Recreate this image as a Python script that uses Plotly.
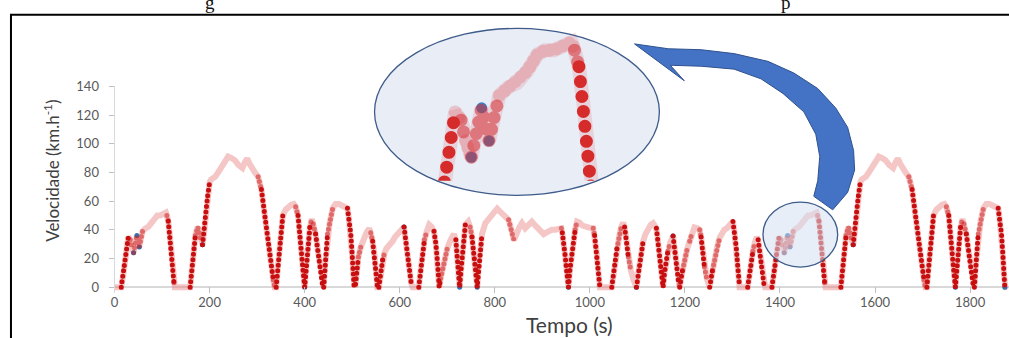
import plotly.graph_objects as go

# ---------------- data ----------------
phase1_t = [0, 14, 18, 22, 26, 29, 33, 36, 40, 44, 47, 50, 52, 55, 59, 65, 71, 78, 85, 90, 96, 102, 108,
            110, 113, 116, 120, 123, 125, 127, 159, 162, 165, 170, 175, 178, 182, 185, 188, 191, 193, 196,
            200, 203, 207, 212, 218, 223, 228, 234, 239, 246, 253, 261, 269, 274, 279, 284, 288, 295, 302,
            305, 309, 314, 319, 324, 330, 334, 337, 340, 343, 347, 350, 354, 360, 366, 372, 377, 381, 386,
            390, 394, 397, 400, 403, 407, 411, 415, 418, 423, 428, 432, 436, 438, 440, 443, 448, 453, 459,
            465, 472, 480, 486, 490, 493, 497, 500, 502, 504, 505]
phase1_v = [0, 0, 8, 18, 28, 35, 33, 28, 24, 31, 36, 31, 28, 33, 39, 41, 42, 45, 49, 50, 50, 51, 52,
            50, 46, 37, 21, 9, 3, 0, 0, 10, 25, 36, 42, 38, 32, 29.5, 37, 49, 55, 64,
            73, 75, 76, 77, 80, 83, 86, 89, 91, 90, 88.5, 85, 83, 87, 89.6, 86, 83, 80, 77,
            73, 68, 55, 41, 28, 14, 5, 0, 0, 12, 28, 38, 50, 54, 56, 57.5, 58, 56, 50,
            38, 22, 10, 0, 14, 32, 42, 47.5, 44, 37, 25, 14, 4, 0, 0, 16, 37, 46, 55,
            58, 58, 57, 56, 55, 48, 37, 22, 10, 0, 0]

phase2_t = [505, 507, 510, 513, 518, 524, 530, 536, 539, 543, 547, 550, 553, 556, 560, 564, 568, 572, 578,
            585, 590, 597, 603, 609, 612, 616, 620, 624, 627, 640, 644, 648, 652, 657, 662, 667, 672, 676,
            680, 683, 686, 690, 695, 700, 707, 714, 718, 721, 724, 726, 729, 733, 738, 744, 748, 752, 756,
            760, 763, 766, 770, 773, 780, 786, 791, 798, 805, 810, 815, 822, 829, 834, 840, 843, 847, 852,
            857, 864, 870, 878, 885, 892, 898, 903, 908, 913, 920, 927, 933, 940, 942, 945, 948, 951, 953,
            955, 958, 962, 965, 969, 973, 978, 984, 990, 998, 1007, 1010, 1014, 1017, 1019, 1021, 1046,
            1049, 1053, 1057, 1062, 1066, 1070, 1073, 1077, 1081, 1086, 1092, 1098, 1102, 1107, 1112, 1117,
            1122, 1128, 1133, 1137, 1140, 1143, 1146, 1150, 1154, 1157, 1160, 1164, 1169, 1175, 1177, 1179,
            1182, 1186, 1189, 1192, 1195, 1199, 1205, 1210, 1215, 1220, 1226, 1231, 1234, 1237, 1241, 1246,
            1252, 1255, 1258, 1262, 1267, 1273, 1278, 1283, 1288, 1295, 1301, 1304, 1306, 1308, 1311, 1313,
            1315, 1332, 1335, 1339, 1343, 1347, 1351, 1354, 1356, 1359, 1362, 1365, 1367, 1369]
phase2_v = [0, 2, 12, 21, 28, 34, 38, 41, 38, 32, 22, 10, 0, 0, 10, 19, 24, 27, 29,
            32, 35, 38, 40, 42, 34, 21, 11, 3, 0, 0, 12, 25, 33, 39, 43.5, 42, 39, 30,
            15, 0, 6, 12, 20, 27, 33, 37, 33, 22, 10, 0, 12, 28, 43.5, 45.7, 42, 35, 25,
            10, 0, 14, 28, 37, 44.6, 47, 49, 52, 54.7, 53, 51, 49, 47, 41, 33, 35, 39, 42,
            44.6, 41, 43, 45.7, 43, 40, 38, 37, 38, 39, 40, 40, 41, 41, 38, 32, 22, 12, 5,
            0, 12, 24, 32, 40, 45.7, 45, 43, 42, 41.5, 41, 36, 25, 14, 6, 0, 0,
            8, 18, 27, 36, 42, 45, 42, 33, 21, 12, 5, 0, 10, 22, 32, 37,
            41, 43.5, 44.6, 43, 41, 33, 23, 10, 0, 10, 17, 25, 31, 35.6, 31, 24,
            14, 5, 0, 6, 12, 19, 27, 32, 38, 41.6, 41, 40, 35, 26, 14, 6,
            0, 6, 12, 19, 27, 34.5, 38, 40, 41, 43, 45.7, 39, 33, 27.7, 15, 7,
            0, 0, 8, 17, 25, 31, 35, 33, 28, 20, 11, 4, 0, 0]

phase3_t = [1369, 1383, 1387, 1391, 1395, 1398, 1402, 1405, 1409, 1413, 1416, 1419, 1421, 1424, 1428, 1434,
            1440, 1447, 1454, 1459, 1465, 1471, 1477, 1479, 1482, 1485, 1489, 1492, 1494, 1496, 1528, 1531,
            1534, 1539, 1544, 1547, 1551, 1554, 1557, 1560, 1562, 1565, 1569, 1572, 1576, 1581, 1587, 1592,
            1597, 1603, 1608, 1615, 1622, 1630, 1638, 1643, 1648, 1653, 1657, 1664, 1671, 1674, 1678, 1683,
            1688, 1693, 1699, 1703, 1706, 1709, 1712, 1716, 1719, 1723, 1729, 1735, 1741, 1746, 1750, 1755,
            1759, 1763, 1766, 1769, 1772, 1776, 1780, 1784, 1787, 1792, 1797, 1801, 1805, 1807, 1809, 1812,
            1817, 1822, 1828, 1834, 1841, 1849, 1855, 1859, 1862, 1866, 1869, 1871, 1873, 1874]
phase3_v = [0, 0, 8, 18, 28, 35, 33, 28, 24, 31, 36, 31, 28, 33, 39, 41,
            42, 45, 49, 50, 50, 51, 52, 50, 46, 37, 21, 9, 3, 0, 0, 10,
            25, 36, 42, 38, 32, 29.5, 37, 49, 55, 64, 73, 75, 76, 77, 80, 83,
            86, 89, 91, 90, 88.5, 85, 83, 87, 89.6, 86, 83, 80, 77, 73, 68, 55,
            41, 28, 14, 5, 0, 0, 12, 28, 38, 50, 54, 56, 57.5, 58, 56, 50,
            38, 22, 10, 0, 14, 32, 42, 47.5, 44, 37, 25, 14, 4, 0, 0, 16,
            37, 46, 55, 58, 58, 57, 56, 55, 48, 37, 22, 10, 0, 0]

blue_t = [40, 47, 52, 185, 400, 609, 726, 763, 955, 1098, 1175, 1409, 1416, 1421, 1554, 1769, 1873]
blue_v = [24, 36, 28, 29.5, 0, 42, 0, 0, 0, 0, 35.6, 24, 36, 28, 29.5, 0, 0]

x_ticks = [0, 200, 400, 600, 800, 1000, 1200, 1400, 1600, 1800]
y_ticks = [0, 20, 40, 60, 80, 100, 120, 140]

# ---------------- helpers ----------------
W, H = 1009, 338
def PX(x):
    return x / W
def PY(y):
    return 1 - y / H

t = phase1_t + phase2_t[1:] + phase3_t[1:]
v = phase1_v + phase2_v[1:] + phase3_v[1:]

def runs(tt, vv, lo, hi):
    xs, ys = [], []
    prev_end = None
    for i in range(len(tt) - 1):
        dt = tt[i + 1] - tt[i]
        rate = abs(vv[i + 1] - vv[i]) / dt if dt > 0 else 0
        if lo <= rate < hi:
            if prev_end != i:
                if xs:
                    xs.append(None); ys.append(None)
                xs.append(tt[i]); ys.append(vv[i])
            xs.append(tt[i + 1]); ys.append(vv[i + 1])
            prev_end = i + 1
    return xs, ys

med_x, med_y = runs(t, v, 1.2, 2.0)
str_x, str_y = runs(t, v, 2.0, 1e9)
low_x, low_y = runs(t, v, 0.0, 1.2)

fig = go.Figure()
# main chart
fig.add_trace(go.Scatter(x=t, y=v, mode="lines", line=dict(color="rgba(232,120,120,0.42)", width=6),
                         hoverinfo="skip", showlegend=False))
fig.add_trace(go.Scatter(x=blue_t, y=blue_v, mode="markers", cliponaxis=False,
                         marker=dict(color="#2E75B6", size=5), showlegend=False))
fig.add_trace(go.Scatter(x=med_x, y=med_y, mode="lines",
                         line=dict(color="rgba(205,30,30,0.55)", width=5, dash="0px,5px"), showlegend=False))
fig.add_trace(go.Scatter(x=str_x, y=str_y, mode="lines",
                         line=dict(color="#C80E0E", width=5, dash="0px,5.5px"), showlegend=False))
# inset (magnified)
fig.add_trace(go.Scatter(x=t, y=v, mode="lines", xaxis="x2", yaxis="y2",
                         line=dict(color="rgba(228,110,120,0.22)", width=14), showlegend=False))
fig.add_trace(go.Scatter(x=low_x, y=low_y, mode="lines", xaxis="x2", yaxis="y2",
                         line=dict(color="rgba(225,95,105,0.30)", width=13, dash="0px,7px"), showlegend=False))
fig.add_trace(go.Scatter(x=blue_t, y=blue_v, mode="markers", xaxis="x2", yaxis="y2",
                         marker=dict(color="#3B82C4", size=11), showlegend=False))
fig.add_trace(go.Scatter(x=med_x, y=med_y, mode="lines", xaxis="x2", yaxis="y2",
                         line=dict(color="rgba(214,45,50,0.55)", width=13, dash="0px,12px"), showlegend=False))
fig.add_trace(go.Scatter(x=str_x, y=str_y, mode="lines", xaxis="x2", yaxis="y2",
                         line=dict(color="#D62B2B", width=13, dash="0px,15px"), showlegend=False))

tick_font = dict(family="Lato, sans-serif", size=13, color="#595959")

fig.update_layout(
    width=W, height=H, autosize=False,
    margin=dict(l=0, r=0, t=0, b=0),
    paper_bgcolor="white", plot_bgcolor="rgba(0,0,0,0)",
    showlegend=False,
    xaxis=dict(domain=[PX(111), 1.0], range=[0, 1881.8], anchor="y",
               showline=False, zeroline=False, showgrid=False,
               tickmode="array", tickvals=x_ticks, ticks="inside", ticklen=6,
               tickcolor="#bfbfbf", tickfont=tick_font),
    yaxis=dict(domain=[PY(293.6), PY(80.7)], range=[-4, 140], anchor="x",
               showline=True, linecolor="#d9d9d9", linewidth=1,
               zeroline=True, zerolinecolor="#d9d9d9", zerolinewidth=1.5, showgrid=False,
               tickmode="array", tickvals=y_ticks, ticks="outside", ticklen=5,
               ticklabelstandoff=7,
               tickcolor="#bfbfbf", tickfont=tick_font),
    xaxis2=dict(domain=[PX(430), PX(600)], range=[1382.5, 1497.4], anchor="y2", visible=False),
    yaxis2=dict(domain=[PY(178), PY(21)], range=[18.3, 55.3], anchor="x2", visible=False),
)

# axis titles
fig.add_annotation(x=PX(47), y=PY(168), xref="paper", yref="paper", showarrow=False, textangle=-90,
                   xanchor="center", yanchor="middle",
                   text="Velocidade (km.h<sup>-1</sup>)",
                   font=dict(family="Lato, sans-serif", size=17, color="#404040"))
fig.add_annotation(x=PX(568), y=PY(326), xref="paper", yref="paper", showarrow=False,
                   xanchor="center", yanchor="middle",
                   text="Tempo (s)", font=dict(family="Lato, sans-serif", size=21, color="#404040"))

# descenders of the caption line cut off above the frame
for cx, ch in [(207, "g"), (785, "p")]:
    fig.add_annotation(x=PX(cx), y=PY(6), xref="paper", yref="paper", showarrow=False,
                       xanchor="center", yanchor="bottom", borderpad=0, text=ch,
                       font=dict(family="Liberation Serif, serif", size=19, color="#111111"))

# frame
fig.add_shape(type="rect", xref="paper", yref="paper", x0=PX(7), x1=1.2, y0=-0.2, y1=PY(7),
              line=dict(color="black", width=2), fillcolor="rgba(0,0,0,0)", layer="above")

# big inset ellipse (fill below, outline above)
fig.add_shape(type="circle", xref="paper", yref="paper", x0=PX(372), x1=PX(658), y0=PY(193), y1=PY(21),
              line=dict(width=0), fillcolor="#E8EDF6", layer="below")
fig.add_shape(type="circle", xref="paper", yref="paper", x0=PX(372), x1=PX(658), y0=PY(193), y1=PY(21),
              line=dict(color="#3E5B8A", width=1.3), fillcolor="rgba(0,0,0,0)", layer="above")
# small circle over the zoomed region
fig.add_shape(type="circle", xref="paper", yref="paper", x0=PX(762), x1=PX(837), y0=PY(267), y1=PY(200),
              line=dict(color="#3E5B8A", width=1.3), fillcolor="rgba(214,224,240,0.55)", layer="above")

# curved arrow
arrow_px = [(832, 208), (847, 190), (854, 167), (853, 147), (847, 123), (835, 103), (817, 83), (793, 67),
            (767, 55), (733, 47), (700, 43), (667, 42), (633, 37), (683, 75), (669, 59), (700, 60),
            (733, 63), (760, 73), (782, 88), (803, 107), (815, 130), (819, 153), (817, 178), (813, 194)]
path = "M " + " L ".join(f"{PX(x):.5f},{PY(y):.5f}" for x, y in arrow_px) + " Z"
fig.add_shape(type="path", xref="paper", yref="paper", path=path,
              fillcolor="#4472C4", line=dict(color="#2F528F", width=1), layer="above")

post = ("document.body.style.margin='0';document.body.style.overflow='hidden';"
        "var s=document.createElement('style');"
        "s.innerHTML='.js-line{stroke-linecap:round !important;}';"
        "document.head.appendChild(s);")
fig.write_html("out.html", post_script=post, config={"displayModeBar": False})
